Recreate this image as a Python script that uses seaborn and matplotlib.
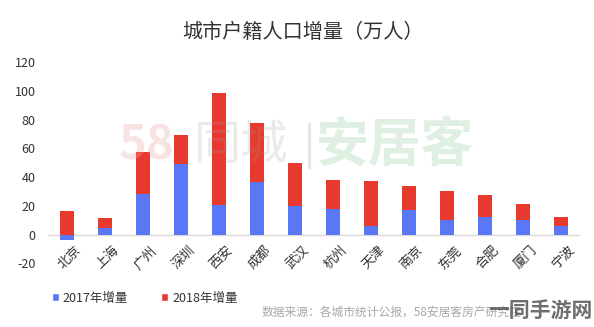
import matplotlib
matplotlib.use("Agg")
import matplotlib.pyplot as plt
from matplotlib.patches import Patch
import seaborn as sns
import pandas as pd

cities = ["北京", "上海", "广州", "深圳", "西安", "成都", "武汉", "杭州",
          "天津", "南京", "东莞", "合肥", "厦门", "宁波"]
inc_2017 = [-4, 4.6, 27.9, 49.3, 20.2, 36.3, 20, 18.1, 6.1, 17.4, 10.2, 12.3, 10, 5.6]
inc_2018 = [16.3, 11.8, 57.2, 69.3, 98.2, 77.4, 49.5, 38.2, 37.5, 33.8, 30, 27.4, 21.1, 11.9]
y_ticks = [-20, 0, 20, 40, 60, 80, 100, 120]

sns.set_theme(style="white")
plt.rcParams["font.family"] = ["Noto Sans CJK SC", "DejaVu Sans"]

BLUE = "#5A78F5"
RED = "#E8392E"
TXT = "#333333"

df = pd.DataFrame({"city": cities, "y2017": inc_2017, "y2018": inc_2018})

fig = plt.figure(figsize=(5.94, 3.27), dpi=100)
ax = fig.add_axes([0.081, 0.195, 0.895, 0.615])

# 2018 bars behind, 2017 bars overlaid at the same positions
sns.barplot(data=df, x="city", y="y2018", color=RED, width=0.37,
            saturation=1, ax=ax, zorder=2, linewidth=0, edgecolor="none")
sns.barplot(data=df, x="city", y="y2017", color=BLUE, width=0.37,
            saturation=1, ax=ax, zorder=3, linewidth=0, edgecolor="none")

ax.set_xlim(-0.5, len(cities) - 0.5)
ax.set_ylim(-20, 120)
ax.set_yticks(y_ticks)
ax.set_yticklabels([str(t) for t in y_ticks], fontsize=9, color=TXT)
ax.axhline(0, color="#DADADA", lw=1.0, zorder=1)
ax.set_xlabel("")
ax.set_ylabel("")
for s in ax.spines.values():
    s.set_visible(False)
ax.tick_params(axis="y", length=0, pad=9)

# category labels hang just below the zero line
ax.set_xticks([])
for i, c in enumerate(cities):
    ax.text(i + 0.2, -6.5, c, rotation=45, ha="right", va="top",
            rotation_mode="anchor", fontsize=9.5, color=TXT)

# faint brand mark across the plot area
wy = 0.555
fig.text(0.200, wy, "58", fontsize=34, color="#EBA3A3", alpha=0.3,
         ha="left", va="center", fontweight="bold")
fig.text(0.326, wy, "同城", fontsize=34, color="#9A9A9A", alpha=0.2,
         ha="left", va="center")
fig.text(0.512, wy, "|", fontsize=30, color="#B0B0B0", alpha=0.35,
         ha="left", va="center")
fig.text(0.532, wy, "安居客", fontsize=38, color="#8CC79A", alpha=0.28,
         ha="left", va="center", fontweight="bold")

fig.text(0.51, 0.90, "城市户籍人口增量（万人）", fontsize=14.5, color=TXT,
         ha="center", va="center")

handles = [Patch(facecolor=BLUE, label="2017年增量"),
           Patch(facecolor=RED, label="2018年增量")]
fig.legend(handles=handles, loc="center left", bbox_to_anchor=(0.068, 0.088),
           ncol=2, frameon=False, fontsize=9, handlelength=0.6,
           handleheight=0.6, handletextpad=0.3, columnspacing=2.6,
           labelcolor=TXT)

fig.text(0.44, 0.045, "数据来源：各城市统计公报，58安居客房产研究院",
         fontsize=8.5, color="#A8A8A8", ha="left", va="center")
fig.text(0.997, 0.05, "一同手游网", fontsize=15, color="#555555",
         ha="right", va="center", fontweight="bold", alpha=0.85)

fig.savefig("out.png", dpi=100)
